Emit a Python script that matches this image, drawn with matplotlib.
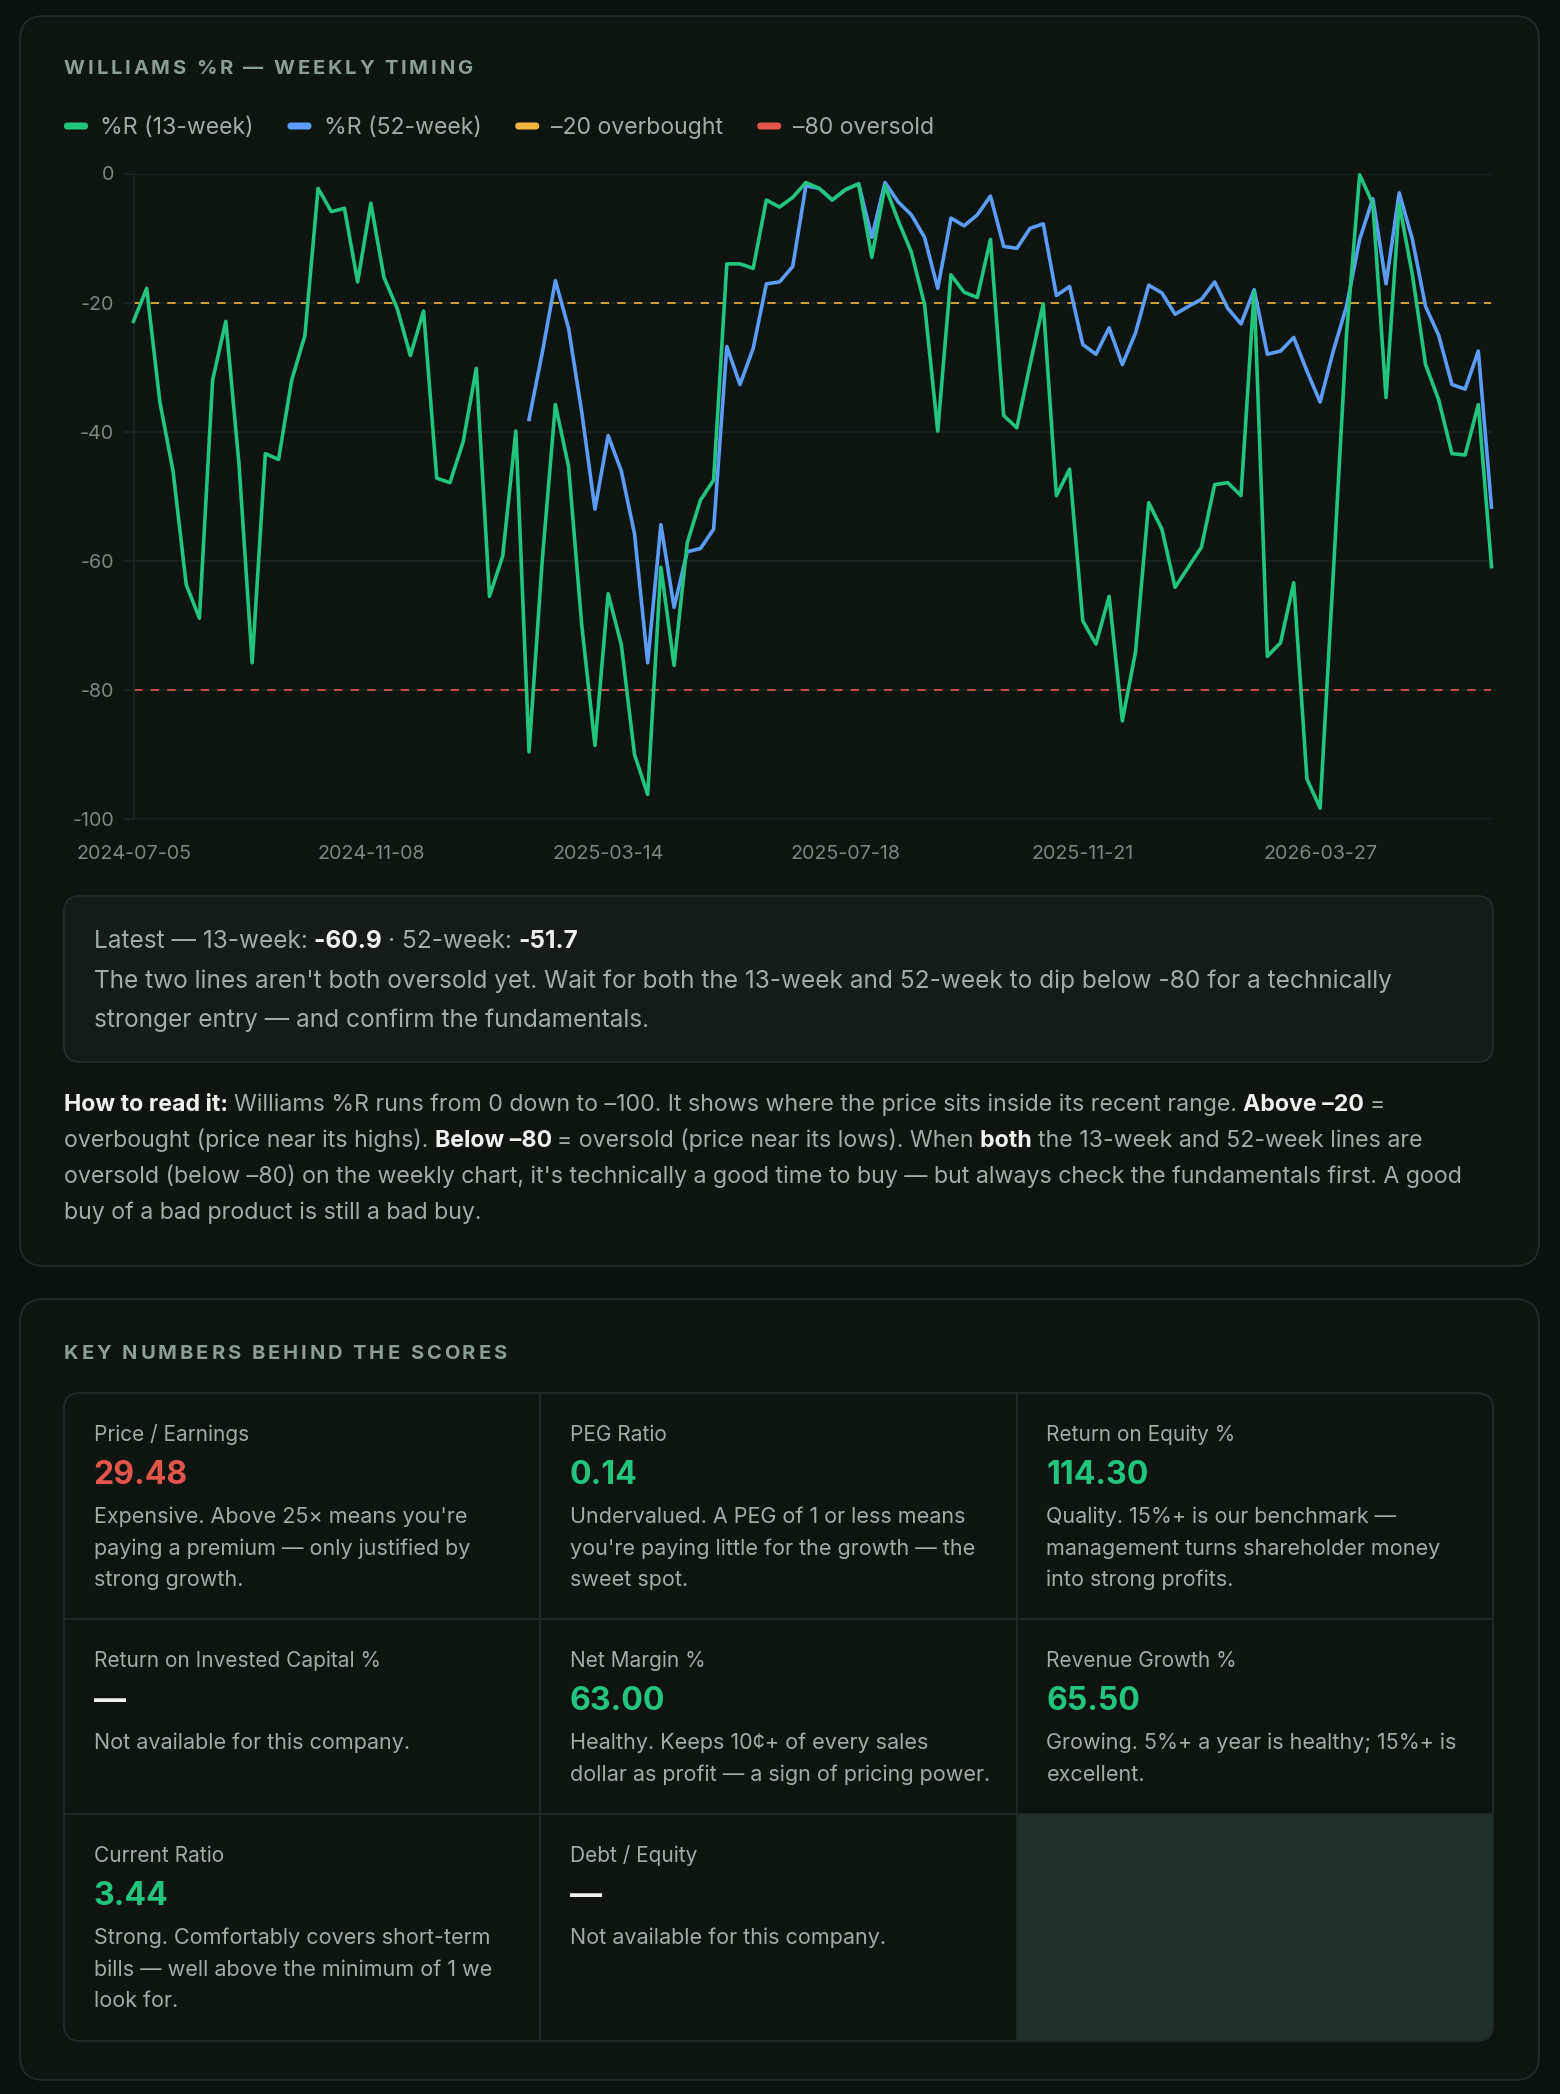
import numpy as np
import pandas as pd
import matplotlib
matplotlib.use("Agg")
import matplotlib.pyplot as plt
from matplotlib.patches import FancyBboxPatch, Rectangle
from matplotlib.font_manager import FontProperties

# weekly Williams %R readings
wr_13 = [-22.9, -17.8, -35.4, -46.1, -63.7, -68.9, -32.0, -22.9, -45.0, -75.8,
         -43.4, -44.3, -32.0, -25.1, -2.3, -5.9, -5.4, -16.8, -4.6, -16.1,
         -20.9, -28.2, -21.3, -47.2, -47.9, -41.6, -30.2, -65.5, -59.3, -39.9,
         -89.6, -60.0, -35.8, -45.4, -70.0, -88.6, -65.1, -73.0, -90.0, -96.2,
         -61.0, -76.2, -57.2, -50.6, -47.5, -14.0, -14.0, -14.7, -4.1, -5.2,
         -3.7, -1.4, -2.3, -4.1, -2.5, -1.6, -13.0, -1.9, -7.3, -12.2,
         -20.3, -39.9, -15.7, -18.4, -19.2, -10.2, -37.5, -39.4, -29.6, -20.2,
         -49.9, -45.8, -69.3, -72.9, -65.5, -84.8, -74.1, -51.0, -55.1, -64.1,
         -61.0, -57.9, -48.2, -47.9, -49.9, -18.2, -74.8, -72.7, -63.4, -93.8,
         -98.3, -62.0, -25.0, -0.2, -4.7, -34.7, -4.7, -15.7, -29.6, -35.1,
         -43.4, -43.6, -35.8, -60.9]
wr_52 = [np.nan] * 30 + [
         -38.1, -27.8, -16.6, -24.0, -37.0, -52.0, -40.6, -46.1, -55.8, -75.8,
         -54.4, -67.2, -58.6, -58.1, -55.1, -26.8, -32.7, -27.1, -17.1, -16.8,
         -14.4, -1.9, -2.3, -4.1, -2.5, -1.6, -9.9, -1.4, -4.4, -6.4,
         -9.9, -17.8, -6.9, -8.1, -6.4, -3.5, -11.3, -11.6, -8.5, -7.8,
         -18.9, -17.5, -26.5, -28.0, -23.9, -29.6, -24.7, -17.3, -18.5, -21.8,
         -20.6, -19.5, -16.8, -20.9, -23.3, -18.0, -28.0, -27.5, -25.4, -30.6,
         -35.4, -27.5, -20.6, -10.2, -3.9, -17.1, -3.0, -10.2, -20.6, -25.1,
         -32.7, -33.4, -27.5, -51.7]
dates = pd.date_range("2024-07-05", periods=len(wr_13), freq="7D")
overbought, oversold = -20, -80
legend_labels = ["%R (13-week)", "%R (52-week)", "\u201320 overbought", "\u201380 oversold"]

metric_names = ["Price / Earnings", "PEG Ratio", "Return on Equity %",
                "Return on Invested Capital %", "Net Margin %", "Revenue Growth %",
                "Current Ratio", "Debt / Equity"]
metric_values = [29.48, 0.14, 114.30, None, 63.00, 65.50, 3.44, None]
metric_rating = ["bad", "good", "good", "na", "good", "good", "good", "na"]
metric_notes = [
    ["Expensive. Above 25\u00d7 means you're", "paying a premium \u2014 only justified by", "strong growth."],
    ["Undervalued. A PEG of 1 or less means", "you're paying little for the growth \u2014 the", "sweet spot."],
    ["Quality. 15%+ is our benchmark \u2014", "management turns shareholder money", "into strong profits."],
    ["Not available for this company."],
    ["Healthy. Keeps 10\u00a2+ of every sales", "dollar as profit \u2014 a sign of pricing power."],
    ["Growing. 5%+ a year is healthy; 15%+ is", "excellent."],
    ["Strong. Comfortably covers short-term", "bills \u2014 well above the minimum of 1 we", "look for."],
    ["Not available for this company."],
]

W, H = 1560, 2094
FONT = ["Inter", "DejaVu Sans"]
plt.rcParams["font.family"] = FONT

PAGE = "#0b110e"
CARD = "#0e1511"
EDGE = "#1f2a25"
BOX = "#141b18"
EMPTY = "#212e29"
GRID = "#1b2420"
MUTED = "#8c9d95"
TEXT = "#a0ada7"
TICK = "#7b8781"
WHITE = "#eef2ef"
GREEN = "#22c47e"
BLUE = "#5b9cf5"
YELLOW = "#eeb63f"
RED = "#e2554b"
rating_color = {"bad": RED, "good": GREEN, "na": WHITE}

fig = plt.figure(figsize=(W / 100, H / 100), dpi=100, facecolor=PAGE)
bg = fig.add_axes([0, 0, 1, 1])
bg.set_xlim(0, W)
bg.set_ylim(H, 0)
bg.axis("off")
rend = fig.canvas.get_renderer()


def width(s, size, weight="normal"):
    fp = FontProperties(family=FONT, size=size, weight=weight)
    a = rend.get_text_width_height_descent(s + "|", fp, ismath=False)[0]
    b = rend.get_text_width_height_descent("|", fp, ismath=False)[0]
    return a - b


def box(x0, y0, x1, y1, rad, fc, ec, lw=1.3, z=1):
    p = FancyBboxPatch((x0, y0), x1 - x0, y1 - y0, boxstyle=f"round,pad=0,rounding_size={rad}",
                       fc=fc, ec=ec, lw=lw, zorder=z)
    bg.add_patch(p)
    return p


def put(x, yc, s, size, color, weight="normal"):
    # yc = visual centre of the line; text sits on a baseline below it
    return bg.text(x, yc + 0.47 * size, s, fontsize=size, color=color, fontweight=weight,
                   ha="left", va="baseline", zorder=5)


def spaced(x, yc, s, size, color, gap):
    for ch in s:
        put(x, yc, ch, size, color, "bold")
        x += width(ch, size, "bold") + gap


def rich(x, yc, parts, size):
    for s, bold in parts:
        wt = "bold" if bold else "normal"
        put(x, yc, s, size, WHITE if bold else TEXT, wt)
        x += width(s, size, wt)


# ---- card 1: Williams %R chart ----
box(20, 16, 1539, 1266, 24, CARD, EDGE)
spaced(64, 67, "WILLIAMS %R \u2014 WEEKLY TIMING", 14.5, MUTED, 2.8)

lx = 64
for lab, c in zip(legend_labels, [GREEN, BLUE, YELLOW, RED]):
    box(lx, 122.5, lx + 24, 129.5, 3.5, c, "none", z=3)
    put(lx + 36, 126, lab, 16.6, TEXT)
    lx += 36 + width(lab, 16.6) + 34

L, R, T, B = 133.5, 1491.5, 173.5, 819
ax = fig.add_axes([L / W, 1 - B / H, (R - L) / W, (B - T) / H])
ax.patch.set_alpha(0)
x = np.arange(len(wr_13))
ax.plot([x[0], x[-1]], [overbought] * 2, color=YELLOW, lw=1.2, ls=(0, (5, 5)), zorder=2)
ax.plot([x[0], x[-1]], [oversold] * 2, color=RED, lw=1.2, ls=(0, (5, 5)), zorder=2)
ax.plot(x, wr_52, color=BLUE, lw=2.6, zorder=3, solid_joinstyle="round", clip_on=False)
ax.plot(x, wr_13, color=GREEN, lw=2.6, zorder=4, solid_joinstyle="round", clip_on=False)
ax.set_xlim(0, len(x) - 1)
ax.set_ylim(-100, 0)
yt = list(range(0, -101, -20))
ax.set_yticks(yt)
ax.set_yticklabels([str(v) for v in yt])
ax.set_xticks(x[::18])
ax.set_xticklabels([d.strftime("%Y-%m-%d") for d in dates[::18]])
ax.grid(axis="y", color=GRID, lw=1.2)
ax.set_axisbelow(True)
ax.tick_params(axis="y", length=8, width=1.2, color=GRID, labelcolor=TICK, labelsize=14.2, pad=6)
ax.tick_params(axis="x", length=0, labelcolor=TICK, labelsize=14.2, pad=19)
for s in ["top", "right", "bottom"]:
    ax.spines[s].set_visible(False)
ax.spines["left"].set_color(GRID)
ax.spines["left"].set_linewidth(1.2)

box(64, 896, 1493, 1062, 16, BOX, "#222d28")
rich(93.5, 940, [("Latest \u2014 13-week: ", False), (f"{wr_13[-1]:.1f} ", True),
                 ("\u00b7 52-week: ", False), (f"{wr_52[-1]:.1f}", True)], 17.6)
put(93.5, 980, "The two lines aren't both oversold yet. Wait for both the 13-week and 52-week "
    "to dip below -80 for a technically", 17.6, TEXT)
put(93.5, 1019, "stronger entry \u2014 and confirm the fundamentals.", 17.6, TEXT)

rich(64, 1103, [("How to read it: ", True),
                ("Williams %R runs from 0 down to \u2013100. It shows where the price sits inside "
                 "its recent range. ", False), ("Above \u201320 ", True), ("=", False)], 16.7)
rich(64, 1139, [("overbought (price near its highs). ", False), ("Below \u201380 ", True),
                ("= oversold (price near its lows). When ", False), ("both ", True),
                ("the 13-week and 52-week lines are", False)], 16.7)
put(64, 1175, "oversold (below \u201380) on the weekly chart, it's technically a good time to buy "
    "\u2014 but always check the fundamentals first. A good", 16.7, TEXT)
put(64, 1211, "buy of a bad product is still a bad buy.", 16.7, TEXT)

# ---- card 2: key numbers table ----
box(20, 1299, 1539, 2080, 24, CARD, EDGE)
spaced(64, 1352, "KEY NUMBERS BEHIND THE SCORES", 14.5, MUTED, 2.9)

cols = [64, 540, 1017, 1493]
rows = [1393, 1619, 1814, 2041]
tbl = box(cols[0], rows[0], cols[-1], rows[-1], 16, CARD, "none", z=1)
blank = Rectangle((cols[2], rows[2]), cols[3] - cols[2], rows[3] - rows[2], fc=EMPTY, ec="none", zorder=2)
bg.add_patch(blank)
blank.set_clip_path(tbl)
box(cols[0], rows[0], cols[-1], rows[-1], 16, "none", EDGE, z=4)
for cx in cols[1:-1]:
    bg.plot([cx, cx], [rows[0], rows[-1]], color=EDGE, lw=1.3, zorder=4)
for ry in rows[1:-1]:
    bg.plot([cols[0], cols[-1]], [ry, ry], color=EDGE, lw=1.3, zorder=4)

for k, name in enumerate(metric_names):
    cx = cols[k % 3] + 29.5
    ry = rows[k // 3]
    put(cx, ry + 40.5, name, 15, TEXT)
    val = metric_values[k]
    txt = "\u2014" if val is None else f"{val:.2f}"
    put(cx, ry + 80.5, txt, 23, rating_color[metric_rating[k]], "bold")
    for j, line in enumerate(metric_notes[k]):
        put(cx, ry + 123 + 31.3 * j, line, 15.5, TEXT)

fig.savefig("out.png", dpi=100, facecolor=PAGE)
